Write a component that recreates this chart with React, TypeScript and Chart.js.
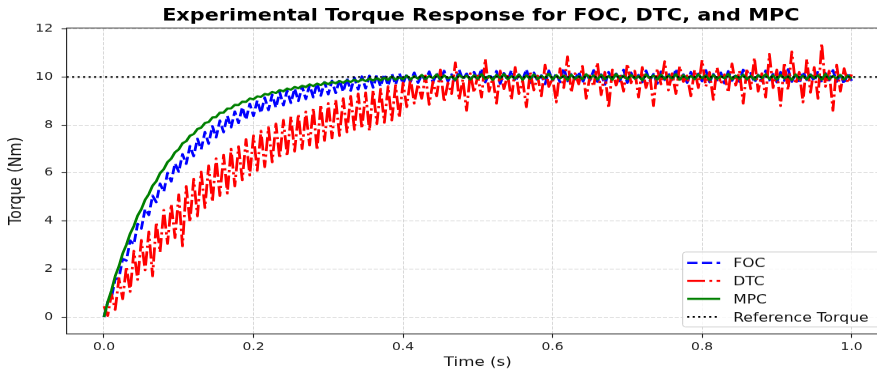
import React, { useEffect, useRef } from 'react';
import { Chart, registerables } from 'chart.js';

Chart.register(...registerables);

// ---------- data ----------
const TIME_STEP = 0.005; // seconds between samples
const chartTitle = 'Experimental Torque Response for FOC, DTC, and MPC';
const xAxisLabel = 'Time (s)';
const yAxisLabel = 'Torque (Nm)';
const seriesNames = ['FOC', 'DTC', 'MPC', 'Reference Torque'];
const referenceTorque = 10;
const xTickValues = [0, 0.2, 0.4, 0.6, 0.8, 1.0];
const yTickValues = [0, 2, 4, 6, 8, 10, 12];
const xRange = [-0.05, 1.05];
const yRange = [-0.71, 12.04];

const focTorque = [
  0.00, 0.62, 0.80, 1.58, 1.62, 2.42, 2.35, 3.18, 3.02, 3.88,
  3.68, 4.50, 4.25, 5.05, 4.78, 5.55, 5.22, 6.00, 5.65, 6.40,
  6.05, 6.78, 6.38, 7.12, 6.70, 7.42, 6.98, 7.70, 7.22, 7.95,
  7.48, 8.18, 7.70, 8.38, 7.90, 8.56, 8.08, 8.74, 8.22, 8.88,
  8.38, 9.02, 8.50, 9.14, 8.62, 9.26, 8.72, 9.36, 8.82, 9.44,
  8.92, 9.52, 9.00, 9.60, 9.08, 9.66, 9.15, 9.74, 9.22, 9.78,
  9.28, 9.84, 9.33, 9.88, 9.38, 9.94, 9.43, 9.97, 9.48, 10.02,
  9.52, 10.05, 9.56, 10.08, 9.60, 10.12, 9.64, 10.14, 9.68, 10.16,
  9.72,
  10.12, 9.80, 10.18, 9.76, 10.08, 9.84, 10.22, 9.79, 10.15, 9.86,
  10.25, 9.82, 10.10, 9.75, 10.30, 9.88, 10.14, 9.80, 10.20, 9.85,
  10.35, 9.78, 10.12, 9.90, 10.24, 9.72, 10.16, 9.86, 10.28, 9.80,
  10.10, 9.88, 10.32, 9.76, 10.18, 9.84, 10.06, 9.70, 10.26, 9.85,
  10.14, 9.78, 10.38, 9.82, 10.12, 9.90, 10.22, 9.74, 10.16, 9.86,
  10.28, 9.80, 10.10, 9.68, 10.20, 9.88, 10.14, 9.82, 10.30, 9.76,
  10.18, 9.86, 10.08, 9.78, 10.26, 9.84, 10.12, 9.72, 10.22, 9.88,
  10.16, 9.80, 10.34, 9.85, 10.10, 9.76, 10.20, 9.88, 10.14, 9.82,
  10.28, 9.78, 10.12, 9.86, 10.18, 9.74, 10.24, 9.84, 10.10, 9.80,
  10.30, 9.88, 10.16, 9.76, 10.08, 9.82, 10.26, 9.86, 10.12, 9.78,
  10.20, 9.84, 10.32, 9.80, 10.14, 9.72, 10.22, 9.88, 10.10, 9.82,
  10.24, 9.76, 10.16, 9.86, 10.28, 9.80, 10.12, 9.70, 10.18, 9.84,
];

const dtcTorque = [
  0.45, 0.05, 0.95, 0.30, 1.60, 0.75, 2.10, 1.05, 2.75, 1.55,
  3.20, 1.95, 3.55, 1.70, 3.95, 2.70, 4.45, 3.05, 4.70, 3.30,
  5.10, 2.95, 5.45, 3.95, 5.75, 4.20, 6.05, 4.55, 6.30, 4.80,
  6.60, 5.05, 6.75, 5.15, 7.00, 5.45, 7.10, 5.70, 7.40, 5.90,
  7.55, 6.10, 7.75, 6.25, 7.90, 6.45, 8.05, 6.60, 8.20, 6.70,
  8.35, 6.90, 8.45, 7.00, 8.55, 7.15, 8.70, 6.95, 8.85, 7.35,
  8.90, 7.45, 9.05, 7.55, 9.10, 7.70, 9.20, 7.80, 9.30, 7.85,
  9.35, 7.75, 9.45, 8.05, 9.50, 8.10, 9.60, 8.20, 9.65, 8.30,
  9.75,
  8.75, 9.95, 8.90, 9.70, 9.10, 10.05, 8.85, 9.80, 9.20, 10.30,
  8.95, 9.75, 9.30, 10.60, 9.05, 9.90, 8.60, 10.15, 9.35, 10.05,
  9.15, 10.75, 9.40, 9.95, 8.90, 10.25, 9.50, 10.10, 9.05, 10.40,
  9.30, 9.85, 8.75, 10.20, 9.45, 10.05, 9.20, 10.50, 9.60, 9.95,
  8.95, 10.35, 9.55, 10.85, 9.35, 10.15, 9.70, 10.45, 9.10, 10.05,
  9.60, 10.60, 9.25, 10.20, 8.70, 10.30, 9.65, 10.10, 9.40, 10.55,
  9.75, 10.25, 9.15, 10.40, 9.55, 10.10, 8.80, 10.35, 9.70, 10.65,
  9.45, 10.15, 9.30, 10.45, 9.80, 10.05, 9.20, 10.30, 9.55, 10.70,
  9.60, 10.20, 9.05, 10.40, 9.70, 10.10, 9.35, 10.55, 9.65, 10.25,
  8.90, 10.35, 9.50, 10.80, 9.40, 10.15, 9.15, 10.95, 9.55, 10.30,
  8.80, 10.60, 9.45, 11.05, 9.70, 10.20, 8.95, 10.75, 9.35, 10.40,
  9.10, 11.40, 9.60, 10.25, 8.60, 10.50, 9.40, 10.35, 9.75, 10.10,
];

const mpcTorque = [
  0.00, 0.62, 1.10, 1.70, 2.11, 2.64, 3.01, 3.47, 3.79, 4.22,
  4.49, 4.88, 5.12, 5.47, 5.66, 5.99, 6.16, 6.45, 6.60, 6.86,
  6.98, 7.23, 7.32, 7.55, 7.62, 7.83, 7.89, 8.08, 8.12, 8.31,
  8.33, 8.51, 8.52, 8.68, 8.69, 8.84, 8.83, 8.97, 8.96, 9.10,
  9.07, 9.19, 9.17, 9.29, 9.26, 9.38, 9.33, 9.45, 9.40, 9.52,
  9.47, 9.58, 9.53, 9.63, 9.58, 9.69, 9.62, 9.72, 9.66, 9.77,
  9.70, 9.79, 9.74, 9.83, 9.76, 9.86, 9.79, 9.88, 9.80, 9.90,
  9.83, 9.93, 9.85, 9.95, 9.86, 9.97, 9.88, 10.02, 9.89, 9.98,
  9.91,
  10.05, 9.90, 10.03, 9.93, 10.08, 9.92, 10.04, 9.95, 10.10, 9.91,
  10.06, 9.94, 10.02, 9.89, 10.09, 9.96, 10.05, 9.90, 10.07, 9.93,
  10.11, 9.92, 10.04, 9.88, 10.08, 9.95, 10.12, 9.91, 10.03, 9.94,
  10.09, 9.89, 10.06, 9.93, 10.10, 9.92, 10.04, 9.96, 10.13, 9.90,
  10.07, 9.94, 10.05, 9.88, 10.09, 9.93, 10.03, 9.91, 10.11, 9.95,
  10.06, 9.90, 10.08, 9.92, 10.04, 9.89, 10.12, 9.94, 10.05, 9.91,
  10.08, 9.93, 10.03, 9.87, 10.10, 9.95, 10.06, 9.90, 10.09, 9.92,
  10.05, 9.94, 10.11, 9.89, 10.07, 9.93, 10.04, 9.91, 10.10, 9.95,
  10.06, 9.88, 10.08, 9.92, 10.03, 9.94, 10.12, 9.90, 10.05, 9.93,
  10.09, 9.91, 10.04, 9.89, 10.07, 9.95, 10.11, 9.92, 10.06, 9.90,
  10.08, 9.94, 10.03, 9.88, 10.10, 9.93, 10.05, 9.91, 10.09, 9.95,
  10.06, 9.89, 10.12, 9.92, 10.04, 9.94, 10.08, 9.90, 10.05, 9.93,
];

// ---------- layout constants (logical canvas, later squashed vertically) ----------
const CANVAS_W = 889;
const CANVAS_H = 472;
const SQUASH = 373 / 472;
const FONT = "'DejaVu Sans', 'Liberation Sans', sans-serif";

const toPoints = (values: number[]) =>
  values.map((v, i) => ({ x: Math.round(i * TIME_STEP * 1000) / 1000, y: v }));

const framePlugin = {
  id: 'frameAndText',
  afterDraw(chart: any) {
    const { ctx, chartArea } = chart;
    const { left, right, top, bottom } = chartArea;
    ctx.save();
    // spines
    ctx.strokeStyle = '#222';
    ctx.lineWidth = 1.1;
    ctx.setLineDash([]);
    ctx.strokeRect(left, top, right - left, bottom - top);

    // title
    ctx.fillStyle = '#000';
    ctx.font = `bold 20.8px ${FONT}`;
    ctx.textAlign = 'center';
    ctx.textBaseline = 'alphabetic';
    ctx.fillText(chartTitle, (left + right) / 2 + 3, top - 9);

    // legend
    const boxRight = right - 7;
    const boxBottom = bottom - 8.8;
    const boxTop = boxBottom - 94.9;
    const boxLeft = 682.7;
    const r = 3;
    ctx.beginPath();
    ctx.moveTo(boxLeft + r, boxTop);
    ctx.lineTo(boxRight - r, boxTop);
    ctx.quadraticCurveTo(boxRight, boxTop, boxRight, boxTop + r);
    ctx.lineTo(boxRight, boxBottom - r);
    ctx.quadraticCurveTo(boxRight, boxBottom, boxRight - r, boxBottom);
    ctx.lineTo(boxLeft + r, boxBottom);
    ctx.quadraticCurveTo(boxLeft, boxBottom, boxLeft, boxBottom - r);
    ctx.lineTo(boxLeft, boxTop + r);
    ctx.quadraticCurveTo(boxLeft, boxTop, boxLeft + r, boxTop);
    ctx.closePath();
    ctx.fillStyle = 'rgba(255,255,255,0.8)';
    ctx.fill();
    ctx.strokeStyle = '#cccccc';
    ctx.lineWidth = 1;
    ctx.stroke();

    const datasets = chart.data.datasets;
    ctx.font = `15.6px ${FONT}`;
    ctx.textAlign = 'left';
    ctx.textBaseline = 'alphabetic';
    datasets.forEach((ds: any, i: number) => {
      const cy = boxTop + 13.7 + i * 22.8;
      ctx.save();
      ctx.strokeStyle = ds.borderColor;
      ctx.lineWidth = ds.borderWidth;
      ctx.setLineDash(ds.borderDash || []);
      ctx.lineCap = 'butt';
      ctx.beginPath();
      ctx.moveTo(boxLeft + 4.5, cy);
      ctx.lineTo(boxLeft + 37.5, cy);
      ctx.stroke();
      ctx.restore();
      ctx.fillStyle = '#111';
      ctx.fillText(ds.label, boxLeft + 50.5, cy + 5.7);
    });
    ctx.restore();
  },
};

export default function App() {
  const canvasRef = useRef<HTMLCanvasElement | null>(null);

  useEffect(() => {
    if (!canvasRef.current) return;
    const gridDash = [4.1, 1.8];
    const chart = new Chart(canvasRef.current, {
      type: 'line',
      data: {
        datasets: [
          {
            label: seriesNames[0],
            data: toPoints(focTorque),
            borderColor: '#0000ff',
            borderWidth: 2.8,
            borderDash: [10.3, 4.4],
            pointRadius: 0,
            borderJoinStyle: 'round',
            order: 4,
          },
          {
            label: seriesNames[1],
            data: toPoints(dtcTorque),
            borderColor: '#ff0000',
            borderWidth: 2.8,
            borderDash: [17.8, 4.4, 2.8, 4.4],
            pointRadius: 0,
            borderJoinStyle: 'round',
            order: 3,
          },
          {
            label: seriesNames[2],
            data: toPoints(mpcTorque),
            borderColor: '#008000',
            borderWidth: 2.8,
            pointRadius: 0,
            borderJoinStyle: 'round',
            order: 2,
          },
          {
            label: seriesNames[3],
            data: [
              { x: xRange[0], y: referenceTorque },
              { x: xRange[1], y: referenceTorque },
            ],
            borderColor: '#000000',
            borderWidth: 2.1,
            borderDash: [2.1, 3.4],
            pointRadius: 0,
            order: 1,
          },
        ],
      },
      options: {
        animation: false,
        responsive: false,
        devicePixelRatio: 1,
        parsing: false,
        layout: { padding: { top: 35.4, left: 0, right: 0, bottom: 0 } },
        plugins: {
          legend: { display: false },
          title: { display: false },
          tooltip: { enabled: false },
        },
        scales: {
          x: {
            type: 'linear',
            min: xRange[0],
            max: xRange[1],
            afterFit: (scale: any) => {
              scale.height = 49.4;
            },
            afterBuildTicks: (scale: any) => {
              scale.ticks = xTickValues.map((v) => ({ value: v }));
            },
            ticks: {
              font: { family: FONT, size: 13.9 },
              color: '#222',
              padding: 3,
              maxRotation: 0,
              autoSkip: false,
              callback: (v: any) => Number(v).toFixed(1),
            },
            grid: {
              color: 'rgba(200,200,200,0.7)',
              lineWidth: 1,
              drawTicks: true,
              tickLength: 5,
              tickColor: '#222',
              tickWidth: 1.1,
              borderDash: gridDash,
              tickBorderDash: [],
            } as any,
            border: { display: false, dash: gridDash },
            title: {
              display: true,
              text: xAxisLabel,
              font: { family: FONT, size: 16.7 },
              color: '#111',
              padding: { top: 0, bottom: 3 },
            },
          },
          y: {
            type: 'linear',
            min: yRange[0],
            max: yRange[1],
            afterFit: (scale: any) => {
              scale.width = 66.6;
            },
            afterBuildTicks: (scale: any) => {
              scale.ticks = yTickValues.map((v) => ({ value: v }));
            },
            ticks: {
              font: { family: FONT, size: 13.9 },
              color: '#222',
              padding: 8.6,
              autoSkip: false,
              callback: (v: any) => String(v),
            },
            grid: {
              color: 'rgba(200,200,200,0.7)',
              lineWidth: 1,
              drawTicks: true,
              tickLength: 5,
              tickColor: '#222',
              tickWidth: 1.1,
              borderDash: gridDash,
              tickBorderDash: [],
            } as any,
            border: { display: false, dash: gridDash },
            title: {
              display: true,
              text: yAxisLabel,
              font: { family: FONT, size: 18.2 },
              color: '#111',
              padding: { top: 5.5, bottom: 0 },
            },
          },
        },
      },
      plugins: [framePlugin],
    } as any);
    return () => chart.destroy();
  }, []);

  return (
    <div
      style={{
        position: 'fixed',
        left: 0,
        top: 0,
        width: 877,
        height: 373,
        overflow: 'hidden',
        background: '#ffffff',
      }}
    >
      <div
        style={{
          width: CANVAS_W,
          height: CANVAS_H,
          transform: `scaleY(${SQUASH})`,
          transformOrigin: '0 0',
        }}
      >
        <canvas ref={canvasRef} width={CANVAS_W} height={CANVAS_H} />
      </div>
    </div>
  );
}
